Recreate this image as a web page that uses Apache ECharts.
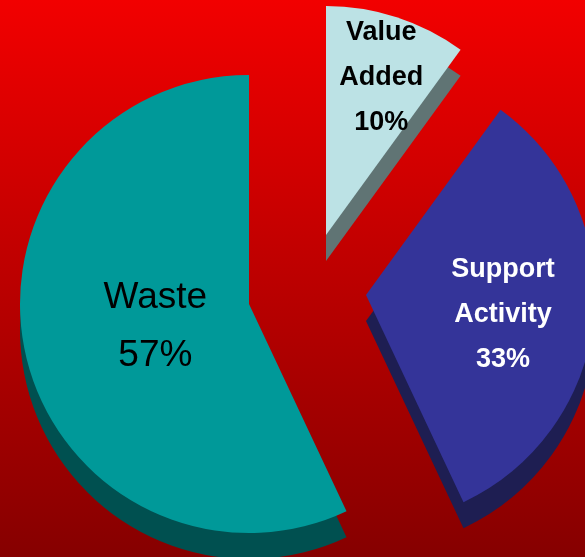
<!DOCTYPE html>
<html>
<head>
<meta charset="utf-8">
<style>
html,body{margin:0;padding:0;}
#chart{width:585px;height:557px;}
</style>
<script src="https://cdn.jsdelivr.net/npm/echarts@6/dist/echarts.min.js"></script>
</head>
<body>
<div id="chart"></div>
<script>
const categories = ['Value\nAdded', 'Support\nActivity', 'Waste'];
const values = [10, 33, 57];
const topColors = ['#BCE2E5', '#343499', '#009999'];
const sideColors = ['#607474', '#1E1E52', '#005050'];
const labelColors = ['#000000', '#FFFFFF', '#000000'];
const labelWeights = ['bold', 'bold', 'normal'];
const labelSizes = [27, 27, 37];
const labelLineHeights = [45, 45, 58];
const centers = [[326, 235], [366, 295], [249, 304]];
const labelShift = [[19, -46], [20, 8], [21, -3]];
const depth = 26;
const radius = 229;

const chart = echarts.init(document.getElementById('chart'), null, {renderer: 'canvas'});

function sliceSeries(idx, isSide) {
  return {
    type: 'pie',
    silent: true,
    startAngle: 90,
    clockwise: true,
    radius: [0, radius],
    center: [centers[idx][0], centers[idx][1] + (isSide ? depth : 0)],
    avoidLabelOverlap: false,
    animation: false,
    z: isSide ? 1 : 2,
    labelLine: {show: false},
    labelLayout: isSide ? undefined : function (p) {
      return {dx: labelShift[idx][0], dy: labelShift[idx][1]};
    },
    data: categories.map((c, i) => ({
      name: c,
      value: values[i],
      itemStyle: {color: i === idx ? (isSide ? sideColors[i] : topColors[i]) : 'rgba(0,0,0,0)'},
      label: (i === idx && !isSide) ? {
        show: true,
        position: 'inside',
        formatter: '{b}\n{c}%',
        color: labelColors[i],
        fontFamily: '"Liberation Sans", Arial, sans-serif',
        fontWeight: labelWeights[i],
        fontSize: labelSizes[i],
        lineHeight: labelLineHeights[i],
        align: 'center'
      } : {show: false}
    }))
  };
}

const series = [];
for (let i = 0; i < values.length; i++) series.push(sliceSeries(i, true));
for (let i = 0; i < values.length; i++) series.push(sliceSeries(i, false));

chart.setOption({
  backgroundColor: {
    type: 'linear', x: 0, y: 0, x2: 0, y2: 1,
    colorStops: [{offset: 0, color: '#F20000'}, {offset: 1, color: '#860000'}]
  },
  series: series
});
</script>
</body>
</html>
